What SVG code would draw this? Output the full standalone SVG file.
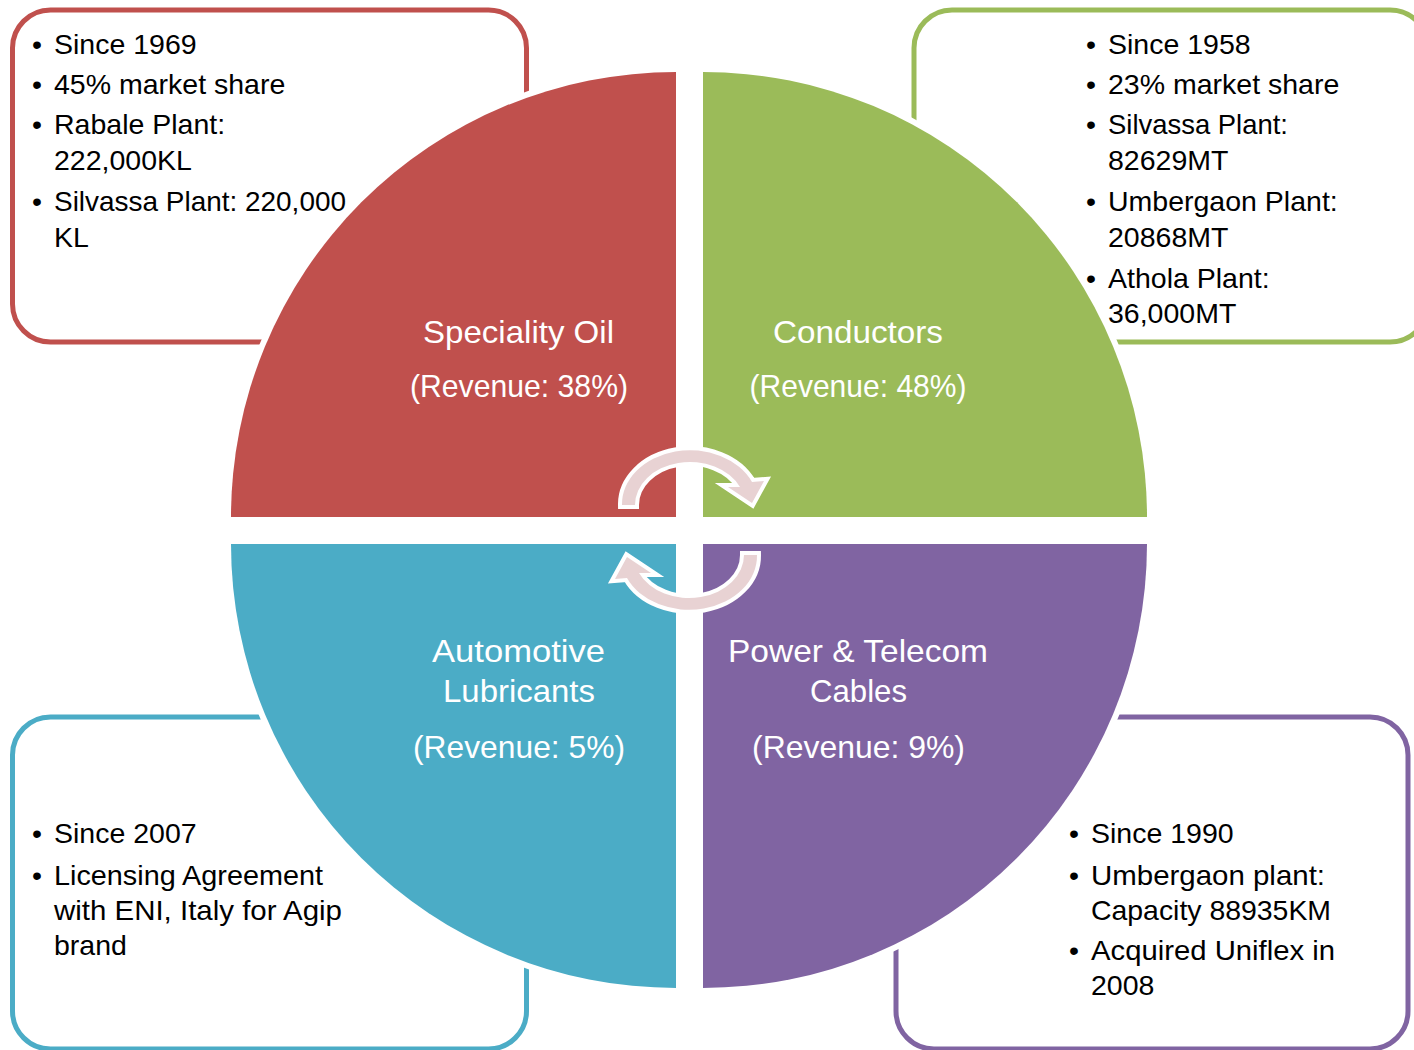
<svg xmlns="http://www.w3.org/2000/svg" width="1414" height="1050" viewBox="0 0 1414 1050">
<style>
.box{fill:#fff;stroke-width:5}
.q{stroke:#fff;stroke-width:12;paint-order:stroke}
.bl{font-family:"Liberation Sans",Arial,sans-serif;font-size:28.5px;fill:#000}
.lb{font-family:"Liberation Sans",Arial,sans-serif;font-size:31.5px;fill:#fff;text-anchor:middle}
.arr{fill:#E8D2D3;stroke:#fff;stroke-width:8;paint-order:stroke;stroke-linejoin:miter}
</style>
<rect width="1414" height="1050" fill="#fff"/>

<g id="node-speciality-oil">
  <rect class="box" x="12.5" y="10" width="514" height="332" rx="38" stroke="#C0504D"/>
  <path class="q" fill="#C0504D" d="M676,517 L231,517 A445 445 0 0 1 676,72 Z"/>
  <text class="lb" x="518.5" y="343" textLength="191" lengthAdjust="spacingAndGlyphs">Speciality Oil</text>
  <text class="lb" x="519" y="397" textLength="218" lengthAdjust="spacingAndGlyphs">(Revenue: 38%)</text>
  <g class="bl">
    <text x="32" y="54">•</text><text x="54" y="54">Since 1969</text>
    <text x="32" y="94">•</text><text x="54" y="94">45% market share</text>
    <text x="32" y="134">•</text><text x="54" y="134">Rabale Plant:</text><text x="54" y="170">222,000KL</text>
    <text x="32" y="211">•</text><text x="54" y="211" textLength="292" lengthAdjust="spacingAndGlyphs">Silvassa Plant: 220,000</text><text x="54" y="247">KL</text>
  </g>
</g>

<g id="node-conductors">
  <rect class="box" x="914" y="10" width="514" height="332" rx="38" stroke="#9BBB59"/>
  <path class="q" fill="#9BBB59" d="M703,517 L703,72 A444 445 0 0 1 1147,517 Z"/>
  <text class="lb" x="858" y="343" textLength="170" lengthAdjust="spacingAndGlyphs">Conductors</text>
  <text class="lb" x="858" y="397" textLength="217" lengthAdjust="spacingAndGlyphs">(Revenue: 48%)</text>
  <g class="bl">
    <text x="1086" y="54">•</text><text x="1108" y="54">Since 1958</text>
    <text x="1086" y="94">•</text><text x="1108" y="94">23% market share</text>
    <text x="1086" y="134">•</text><text x="1108" y="134" textLength="180" lengthAdjust="spacingAndGlyphs">Silvassa Plant:</text><text x="1108" y="170">82629MT</text>
    <text x="1086" y="211">•</text><text x="1108" y="211">Umbergaon Plant:</text><text x="1108" y="247">20868MT</text>
    <text x="1086" y="288">•</text><text x="1108" y="288">Athola Plant:</text><text x="1108" y="323">36,000MT</text>
  </g>
</g>

<g id="node-automotive-lubricants">
  <rect class="box" x="12.5" y="717" width="514" height="332" rx="38" stroke="#4BACC6"/>
  <path class="q" fill="#4BACC6" d="M676,544 L676,988 A445 444 0 0 1 231,544 Z"/>
  <text class="lb" x="518.5" y="662" textLength="173" lengthAdjust="spacingAndGlyphs">Automotive</text>
  <text class="lb" x="519" y="702" textLength="152" lengthAdjust="spacingAndGlyphs">Lubricants</text>
  <text class="lb" x="519" y="758" textLength="212" lengthAdjust="spacingAndGlyphs">(Revenue: 5%)</text>
  <g class="bl">
    <text x="32" y="843">•</text><text x="54" y="843">Since 2007</text>
    <text x="32" y="885">•</text><text x="54" y="885" textLength="269" lengthAdjust="spacingAndGlyphs">Licensing Agreement</text><text x="54" y="920" textLength="288" lengthAdjust="spacingAndGlyphs">with ENI, Italy for Agip</text><text x="54" y="955">brand</text>
  </g>
</g>

<g id="node-power-telecom-cables">
  <rect class="box" x="896" y="717" width="512" height="332" rx="38" stroke="#8064A2"/>
  <path class="q" fill="#8064A2" d="M703,544 L1147,544 A444 444 0 0 1 703,988 Z"/>
  <text class="lb" x="858" y="662" textLength="260" lengthAdjust="spacingAndGlyphs">Power &amp; Telecom</text>
  <text class="lb" x="858.5" y="702" textLength="97" lengthAdjust="spacingAndGlyphs">Cables</text>
  <text class="lb" x="858.5" y="758" textLength="213" lengthAdjust="spacingAndGlyphs">(Revenue: 9%)</text>
  <g class="bl">
    <text x="1069" y="843">•</text><text x="1091" y="843">Since 1990</text>
    <text x="1069" y="885">•</text><text x="1091" y="885" textLength="234" lengthAdjust="spacingAndGlyphs">Umbergaon plant:</text><text x="1091" y="920" textLength="240" lengthAdjust="spacingAndGlyphs">Capacity 88935KM</text>
    <text x="1069" y="960">•</text><text x="1091" y="960" textLength="244" lengthAdjust="spacingAndGlyphs">Acquired Uniflex in</text><text x="1091" y="995">2008</text>
  </g>
</g>

<g id="connectors">
  <path id="arrow-top" class="arr" d="M622,505 A68 54 0 0 1 752,482 L764,481 L752,503 L728,487 L740,487 A55 43 0 0 0 635,505 Z"/>
  <path id="arrow-bottom" class="arr" transform="rotate(180 689.5 530)" d="M622,505 A68 54 0 0 1 752,482 L764,481 L752,503 L728,487 L740,487 A55 43 0 0 0 635,505 Z"/>
</g>
</svg>
